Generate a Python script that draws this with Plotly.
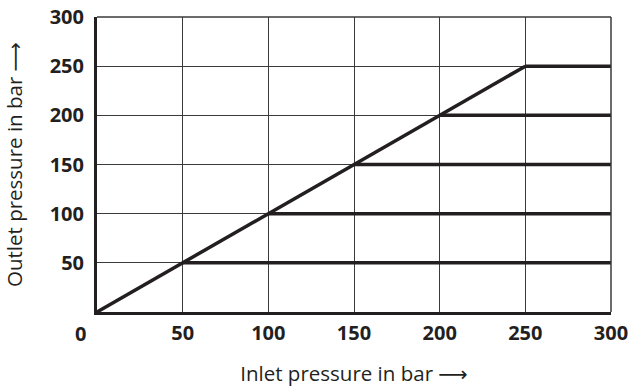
import plotly.graph_objects as go

# set pressures (bar) of the regulator curves
set_pressures = [50, 100, 150, 200, 250]
inlet_max = 300
tick_vals = [50, 100, 150, 200, 250, 300]
tick_text = ["50", "100", "150", "200", "250", "300"]

line_color = "#231f20"
grid_color = "#3a3a3a"
font_family = "Open Sans, Noto Sans, sans-serif"
arrow = '<span style="font-family:DejaVu Sans">⟶</span>'

fig = go.Figure()

# rising part: outlet = inlet up to the highest set pressure
fig.add_trace(go.Scatter(
    x=[0, set_pressures[-1]],
    y=[0, set_pressures[-1]],
    mode="lines",
    line=dict(color=line_color, width=3.5),
    showlegend=False,
))

# flat part for each set pressure
for p in set_pressures:
    fig.add_trace(go.Scatter(
        x=[p, inlet_max],
        y=[p, p],
        mode="lines",
        line=dict(color=line_color, width=3.5),
        showlegend=False,
    ))

tick_font = dict(family=font_family, size=20, color=line_color, weight="bold")
title_font = dict(family=font_family, size=20.5, color=line_color)

fig.update_xaxes(
    range=[0, 300],
    tickvals=tick_vals,
    ticktext=tick_text,
    showgrid=True,
    gridcolor=grid_color,
    gridwidth=1.3,
    showline=True,
    linecolor=line_color,
    linewidth=3,
    zeroline=False,
    ticks="",
    automargin=False,
    ticklabelstandoff=1,
    tickfont=tick_font,
    title=dict(text="Inlet pressure in bar " + arrow, standoff=22, font=title_font),
)
fig.update_yaxes(
    range=[0, 300],
    tickvals=tick_vals,
    ticktext=tick_text,
    showgrid=True,
    gridcolor=grid_color,
    gridwidth=1.3,
    showline=True,
    linecolor=line_color,
    linewidth=3,
    zeroline=False,
    ticks="",
    automargin=False,
    ticklabelstandoff=6,
    tickfont=tick_font,
    title=dict(text="Outlet pressure in bar " + arrow, standoff=23, font=title_font),
)

# thin frame on top and right
fig.add_shape(type="line", xref="paper", yref="paper", x0=0, x1=1, y0=1, y1=1,
              line=dict(color=grid_color, width=1.5))
fig.add_shape(type="line", xref="paper", yref="paper", x0=1, x1=1, y0=0, y1=1,
              line=dict(color=grid_color, width=1.5))

# corner label "0"
fig.add_annotation(x=0, y=0, xref="paper", yref="paper", text="0",
                   showarrow=False, xanchor="center", yanchor="middle",
                   xshift=-17, yshift=-21,
                   font=tick_font)

fig.update_layout(
    width=632,
    height=387,
    margin=dict(l=97, r=21, t=17, b=75),
    plot_bgcolor="white",
    paper_bgcolor="white",
)

# drop the default page margin so the figure sits at the window corner
fig.write_html("out.html", config={"displayModeBar": False},
               post_script="document.body.style.margin = '0';")
